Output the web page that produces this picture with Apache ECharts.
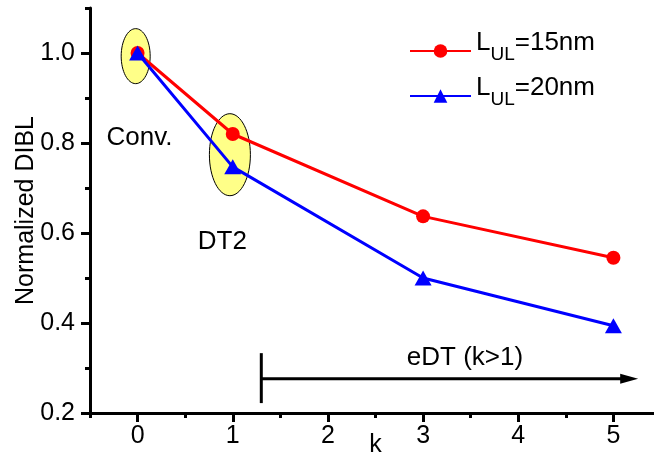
<!DOCTYPE html>
<html>
<head>
<meta charset="utf-8">
<script src="https://cdn.jsdelivr.net/npm/echarts@6/dist/echarts.min.js"></script>
<style>
    html, body { margin: 0; padding: 0; background: #fff; }
    #main { width: 654px; height: 455px; }
</style>
</head>
<body>
<div id="main"></div>
<script>
// data
const kValues = [0, 1, 3, 5];
const dibl15 = [1.0, 0.82, 0.637, 0.545];
const dibl20 = [1.0, 0.747, 0.50, 0.394];
const seriesNames = ['L_UL=15nm', 'L_UL=20nm'];

// ticks
const xTicks = [0, 1, 2, 3, 4, 5];
const xMinorTicks = [-0.5, 0.5, 1.5, 2.5, 3.5, 4.5, 5.5];
const yTicks = [0.2, 0.4, 0.6, 0.8, 1.0];
const yMinorTicks = [0.3, 0.5, 0.7, 0.9, 1.1];

// annotations, in data coordinates
const notes = [
    { text: 'Conv.', k: 0.02, v: 0.812 },
    { text: 'DT2', k: 0.89, v: 0.58 },
    { text: 'eDT (k>1)', k: 3.44, v: 0.322 }
];
const ovals = [
    { k: -0.02, v: 0.993, rx: 14.5, ry: 27.5 },
    { k: 0.97, v: 0.774, rx: 20.5, ry: 41 }
];
const arrow = { from: 1.30, to: 5.26, v: 0.276, barTop: 0.333, barBottom: 0.222 };

const font = '"Liberation Sans", Arial, sans-serif';

function pairs(xs, ys) {
    return xs.map((x, i) => [x, ys[i]]);
}

function axisX(ticks, len, main) {
    return {
        type: 'value', min: -0.5, max: 5.5, position: 'bottom',
        name: main ? 'k' : '', nameLocation: 'middle', nameGap: 20, nameMoveOverlap: false,
        nameTextStyle: { fontSize: 25, fontFamily: font, color: '#000' },
        axisLine: { show: main, onZero: false, lineStyle: { color: '#000', width: 3 } },
        axisTick: { show: true, customValues: ticks, length: len, lineStyle: { color: '#000', width: 3 } },
        axisLabel: { show: main, customValues: ticks, fontSize: 25, fontFamily: font, color: '#000', margin: 11 },
        splitLine: { show: false }
    };
}

function axisY(ticks, len, main) {
    return {
        type: 'value', min: 0.2, max: 1.1, position: 'left',
        name: main ? 'Normalized DIBL' : '', nameLocation: 'middle', nameGap: 51, nameMoveOverlap: false,
        nameTextStyle: { fontSize: 25, fontFamily: font, color: '#000' },
        axisLine: { show: main, onZero: false, lineStyle: { color: '#000', width: 3 } },
        axisTick: { show: true, customValues: ticks, length: len, lineStyle: { color: '#000', width: 3 } },
        axisLabel: {
            show: main, customValues: ticks, fontSize: 25, fontFamily: font, color: '#000', margin: 15,
            formatter: v => v.toFixed(1)
        },
        splitLine: { show: false }
    };
}

var chart = echarts.init(document.getElementById('main'));
chart.setOption({
    animation: false,
    backgroundColor: '#fff',
    grid: { left: 90, right: -7, top: 8, bottom: 42, outerBoundsMode: 'none', containLabel: false },
    xAxis: [axisX(xTicks, 9, true), axisX(xMinorTicks, 5, false)],
    yAxis: [axisY(yTicks, 9, true), axisY(yMinorTicks, 5, false)],
    legend: {
        orient: 'vertical', left: 404, top: 17,
        itemWidth: 61, itemHeight: 17, itemGap: 3,
        data: seriesNames,
        formatter: function (name) {
            var a = name.split('_');
            var b = a[1].split('=');
            return '{n|' + a[0] + '}{s|' + b[0] + '}{n|=' + b[1] + '}';
        },
        textStyle: {
            rich: {
                n: { fontSize: 26, fontFamily: font, color: '#000', lineHeight: 26, padding: [8, 0, 8, 0], verticalAlign: 'bottom' },
                s: { fontSize: 19, fontFamily: font, color: '#000', lineHeight: 19, verticalAlign: 'bottom' }
            }
        }
    },
    series: [
        {
            name: seriesNames[0], type: 'line', data: pairs(kValues, dibl15),
            symbol: 'circle', symbolSize: 14,
            lineStyle: { color: '#ff0000', width: 3 },
            itemStyle: { color: '#ff0000' }
        },
        {
            name: seriesNames[1], type: 'line', data: pairs(kValues, dibl20),
            symbol: 'triangle', symbolSize: [17, 15],
            lineStyle: { color: '#0000ff', width: 3 },
            itemStyle: { color: '#0000ff' }
        }
    ]
});

// draw the ovals, labels and the eDT arrow
function px(k, v) {
    return chart.convertToPixel({ xAxisIndex: 0, yAxisIndex: 0 }, [k, v]);
}

var g = [];
ovals.forEach(function (o) {
    var c = px(o.k, o.v);
    g.push({
        type: 'ellipse', z: 1,
        shape: { cx: c[0], cy: c[1], rx: o.rx, ry: o.ry },
        style: { fill: '#ffff88', stroke: '#000', lineWidth: 1 }
    });
});
notes.forEach(function (t) {
    var c = px(t.k, t.v);
    g.push({
        type: 'text', z: 5, x: c[0], y: c[1],
        style: { text: t.text, fontSize: 26, fontFamily: font, fill: '#000', align: 'center', verticalAlign: 'middle' }
    });
});
var a0 = px(arrow.from, arrow.v);
var a1 = px(arrow.to, arrow.v);
var bt = px(arrow.from, arrow.barTop);
var bb = px(arrow.from, arrow.barBottom);
g.push({
    type: 'line', z: 5,
    shape: { x1: a0[0], y1: a0[1], x2: a1[0] - 14, y2: a1[1] },
    style: { stroke: '#000', lineWidth: 3 }
});
g.push({
    type: 'line', z: 5,
    shape: { x1: bt[0], y1: bt[1], x2: bb[0], y2: bb[1] },
    style: { stroke: '#000', lineWidth: 3 }
});
g.push({
    type: 'polygon', z: 5,
    shape: { points: [[a1[0] - 18, a1[1] - 5], [a1[0], a1[1]], [a1[0] - 18, a1[1] + 5]] },
    style: { fill: '#000' }
});
chart.setOption({ graphic: g });
</script>
</body>
</html>
